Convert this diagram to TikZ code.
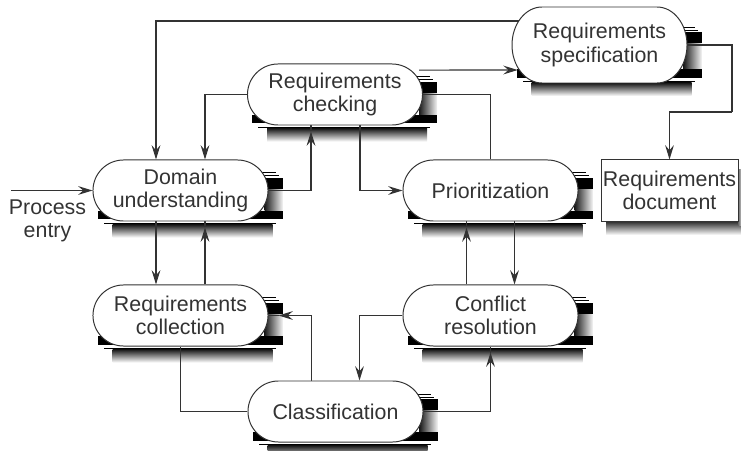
\documentclass[tikz,border=0pt]{standalone}
\usepackage{fontspec}
\usepackage{xcolor}
\setmainfont{Liberation Sans}
\usetikzlibrary{arrows.meta,shapes.misc}
\definecolor{inkgray}{HTML}{333333}

\pgfdeclarelayer{shade}
\pgfdeclarelayer{links}
\pgfsetlayers{shade,links,main}

\tikzset{
  boxtext/.style={text=inkgray, align=center, inner sep=0pt, font=\fontsize{15.2}{16.6}\selectfont},
  pill/.style={boxtext, rounded rectangle, draw=inkgray, line width=0.7pt, fill=white,
    minimum width=4.375cm, minimum height=1.525cm},
  docbox/.style={boxtext, rectangle, draw=inkgray, line width=0.7pt, fill=white,
    minimum width=3.425cm, minimum height=1.525cm},
  link/.style={draw=inkgray, line width=0.8pt},
  flow/.style={link, -{Stealth[length=0.36cm,width=0.22cm,inset=0.13cm]}},
}

% hard black bands and soft grey edges behind a pill
\newcommand{\pillshade}[3]{
  \shade[left color=black!90, middle color=black!55, right color=black!5] (#1+84,#2-1) rectangle (#1+102,#2+20.5+#3);
  \shade[top color=black!90, middle color=black!50, bottom color=white] (#1-68,#2+34+#3) rectangle (#1+92,#2+47+#3);
  \fill[black] (#1+70,#2-12.5) rectangle (#1+102,#2-1.5);
  \fill[black] (#1-83,#2+20.5+#3) rectangle (#1+102,#2+29+#3);
  \fill[black] (#1+70,#2-18) rectangle (#1+95,#2-17);
  \fill[black] (#1+70,#2-15) rectangle (#1+98,#2-14);
  \fill[black] (#1-77,#2+32.5+#3) rectangle (#1+95,#2+33.5+#3);
}

\begin{document}
\begin{tikzpicture}[x=0.025cm, y=-0.025cm]
  \useasboundingbox (0,0) rectangle (741,451);

  % Process steps
  \node[pill] (checking) at (335,94.5) {Requirements\\checking};
  \fill[white, draw=inkgray, line width=0.7pt] (542,7) -- (657,7)
    arc[start angle=-90, end angle=90, x radius=30, y radius=38]
    -- (542,83) arc[start angle=90, end angle=270, x radius=30, y radius=38] -- cycle;
  \node[boxtext, minimum width=4.375cm, minimum height=1.9cm] (spec) at (599.5,45) {Requirements\\specification};
  \node[pill] (domain) at (180.5,190.5) {Domain\\understanding};
  \node[pill] (prior) at (490.5,190.5) {Prioritization};
  \node[pill] (collect) at (180.5,315.5) {Requirements\\collection};
  \node[pill] (conflict) at (490.5,315.5) {Conflict\\resolution};
  \node[pill] (classif) at (335.5,411.5) {Classification};
  \node[docbox] (doc) at (669.5,190.5) {Requirements\\document};
  \node[boxtext] (entry) at (47.5,221) {Process\\entry};

  % Shadows
  \begin{pgfonlayer}{shade}
    \foreach \cx/\cy/\extra in {335/94.5/0, 599.5/45/4, 180.5/190.5/0, 490.5/190.5/0,
                                180.5/315.5/0, 490.5/315.5/0, 335.5/411.5/0}
      \pillshade{\cx}{\cy}{\extra};
    \shade[top color=black!85, middle color=black!45, bottom color=white] (606,221) rectangle (741,235);
    \shade[left color=black!60, right color=black!25] (738,170) rectangle (741,226);
  \end{pgfonlayer}

  % Arrow tips that stop short of the outline
  \coordinate (entrystart) at (11,190.5);
  \coordinate (checkin) at ([xshift=-0.6cm,yshift=-0.15cm]checking.south);
  \coordinate (domainin) at ([xshift=0.6125cm,yshift=-0.15cm]domain.south);
  \coordinate (priorin) at ([xshift=-0.6cm,yshift=-0.15cm]prior.south);
  \coordinate (conflictin) at ([yshift=-0.15cm]conflict.south);
  \coordinate (collectin) at ([xshift=0.25cm]collect.east);
  \coordinate (specturn) at (732,112);

  % Connectors
  \begin{pgfonlayer}{links}
    \draw[flow] (entrystart) -- (domain.west);
    \draw[flow] ([xshift=0.4cm,yshift=0.6cm]spec.west) -| ([xshift=-0.6125cm]domain.north);
    \draw[flow] (checking.west) -| ([xshift=0.6125cm]domain.north);
    \draw[flow] (domain.east) -| (checkin);
    \draw[link] (checkin) -- (checkin |- checking.south);
    \draw[flow] ([xshift=0.625cm]checking.south) |- (prior.west);
    \draw[flow] ([xshift=-0.1cm,yshift=0.61cm]checking.east) -- ([xshift=0.15cm,yshift=-0.625cm]spec.west);
    \draw[link] (prior.north) |- (checking.east);
    \draw[link] (spec.east) -| (specturn);
    \draw[flow] (specturn) -| (doc.north);
    \draw[flow] ([xshift=-0.6125cm]domain.south) -- ([xshift=-0.6125cm]collect.north);
    \draw[flow] ([xshift=0.6125cm]collect.north) -- (domainin);
    \draw[link] (domainin) -- (domainin |- domain.south);
    \draw[flow] ([xshift=-0.6cm]conflict.north) -- (priorin);
    \draw[link] (priorin) -- (priorin |- prior.south);
    \draw[flow] ([xshift=0.6cm]prior.south) -- ([xshift=0.6cm]conflict.north);
    \draw[flow] (conflict.west) -| ([xshift=0.6cm]classif.north);
    \draw[flow] ([xshift=-0.6cm]classif.north) |- (collectin);
    \draw[link] (collectin) -- (collect.east);
    \draw[link] (classif.west) -| (collect.south);
    \draw[flow] (classif.east) -| (conflictin);
    \draw[link] (conflictin) -- (conflict.south);
  \end{pgfonlayer}
\end{tikzpicture}
\end{document}
